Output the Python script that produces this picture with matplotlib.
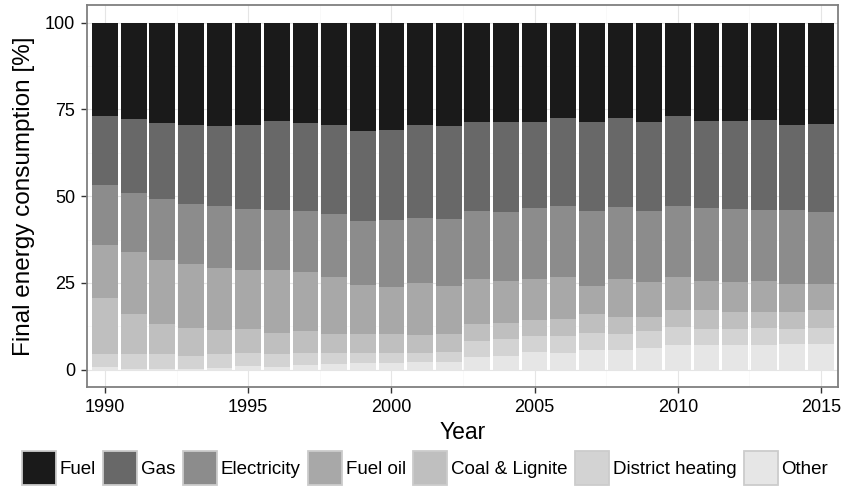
import matplotlib
matplotlib.use("Agg")
import matplotlib.pyplot as plt
from matplotlib.patches import Patch
from matplotlib.ticker import MultipleLocator
import numpy as np

plt.rcParams["font.family"] = ["Liberation Sans", "DejaVu Sans"]

years = list(range(1990, 2016))

# Shares of final energy consumption per carrier [%]
other = [0.7, 0.3, 0.3, 0.3, 0.6, 1.2, 0.9, 1.4, 1.7, 2.0, 2.0, 2.3, 2.3,
         3.7, 4.0, 5.2, 4.9, 5.8, 5.8, 6.3, 7.2, 7.2, 7.2, 7.2, 7.5, 7.5]
district_heating = [3.7, 4.1, 4.1, 3.7, 3.8, 3.7, 3.7, 3.5, 3.2, 2.9, 2.9, 2.6, 2.9,
                    4.7, 4.9, 4.6, 4.9, 4.9, 4.6, 4.9, 5.2, 4.6, 4.6, 4.9, 4.3, 4.6]
coal_lignite = [16.3, 11.5, 8.9, 8.1, 7.1, 6.9, 6.1, 6.1, 5.5, 5.5, 5.5, 5.2, 5.2,
                4.9, 4.6, 4.6, 4.9, 5.2, 4.9, 4.1, 4.9, 5.5, 4.9, 4.6, 4.9, 5.2]
fuel_oil = [15.3, 18.1, 18.4, 18.4, 17.9, 17.0, 18.1, 17.2, 16.4, 14.1, 13.5, 15.0, 13.8,
            12.9, 12.1, 11.8, 12.1, 8.3, 10.9, 10.1, 9.5, 8.3, 8.7, 8.9, 8.1, 7.5]
electricity = [17.3, 17.0, 17.6, 17.3, 17.9, 17.6, 17.3, 17.6, 18.2, 18.4, 19.3, 18.7, 19.3,
               19.6, 19.9, 20.5, 20.5, 21.6, 20.8, 20.4, 20.5, 21.1, 21.0, 20.5, 21.3, 20.7]
gas = [19.9, 21.3, 21.9, 22.8, 23.0, 24.2, 25.7, 25.4, 25.6, 26.0, 26.0, 26.8, 26.8,
       25.7, 26.0, 24.8, 25.3, 25.7, 25.6, 25.7, 25.9, 25.1, 25.4, 25.9, 24.5, 25.4]
fuel = [26.8, 27.7, 28.8, 29.4, 29.7, 29.4, 28.2, 28.8, 29.4, 31.1, 30.8, 29.4, 29.7,
        28.5, 28.5, 28.5, 27.4, 28.5, 27.4, 28.5, 26.8, 28.2, 28.2, 28.0, 29.4, 29.1]

labels = ["Fuel", "Gas", "Electricity", "Fuel oil", "Coal & Lignite",
          "District heating", "Other"]
series = [fuel, gas, electricity, fuel_oil, coal_lignite, district_heating, other]
colors = ["#1A1A1A", "#686868", "#8C8C8C", "#A8A8A8", "#BFBFBF", "#D3D3D3", "#E6E6E6"]

fig = plt.figure(figsize=(8.42, 4.87), dpi=100)
ax = fig.add_axes([0.1037, 0.2053, 0.8910, 0.7838])

# stack from the bottom (Other) up to the top (Fuel)
bottom = np.zeros(len(years))
for lab, vals, col in zip(labels[::-1], series[::-1], colors[::-1]):
    v = np.array(vals)
    ax.bar(years, v, width=0.9, bottom=bottom, color=col, linewidth=0, zorder=2)
    bottom += v

ax.set_xlim(1989.38, 2015.58)
ax.set_ylim(-5, 105)
ax.xaxis.set_major_locator(MultipleLocator(5))
ax.xaxis.set_minor_locator(MultipleLocator(2.5))
ax.yaxis.set_major_locator(MultipleLocator(25))
ax.yaxis.set_minor_locator(MultipleLocator(12.5))
ax.grid(which="major", color="#E5E5E5", linewidth=0.8, zorder=0)
ax.grid(which="minor", color="#F7F7F7", linewidth=0.5, zorder=0)
ax.set_axisbelow(True)

for sp in ax.spines.values():
    sp.set_color("#7F7F7F")
    sp.set_linewidth(1.3)

ax.tick_params(which="major", length=4.3, width=1.0, color="#333333",
               labelsize=13, labelcolor="black")
ax.tick_params(axis="x", pad=4.0)
ax.tick_params(axis="y", pad=4.5)
ax.tick_params(which="minor", length=0)

ax.set_xlabel("Year", fontsize=16.5, labelpad=4)
ax.set_ylabel("Final energy consumption [%]", fontsize=17.5, labelpad=7)

handles = [Patch(facecolor=c, edgecolor="#CCCCCC", linewidth=1.3, label=l)
           for l, c in zip(labels, colors)]
fig.legend(handles=handles, loc="lower center", bbox_to_anchor=(0.5048, 0.0),
           ncol=7, frameon=False, fontsize=13.5, handlelength=1.81,
           handleheight=2.41, handletextpad=0.2, columnspacing=0.4,
           borderpad=0.05, borderaxespad=0.05)

fig.savefig("out.png", dpi=100)
